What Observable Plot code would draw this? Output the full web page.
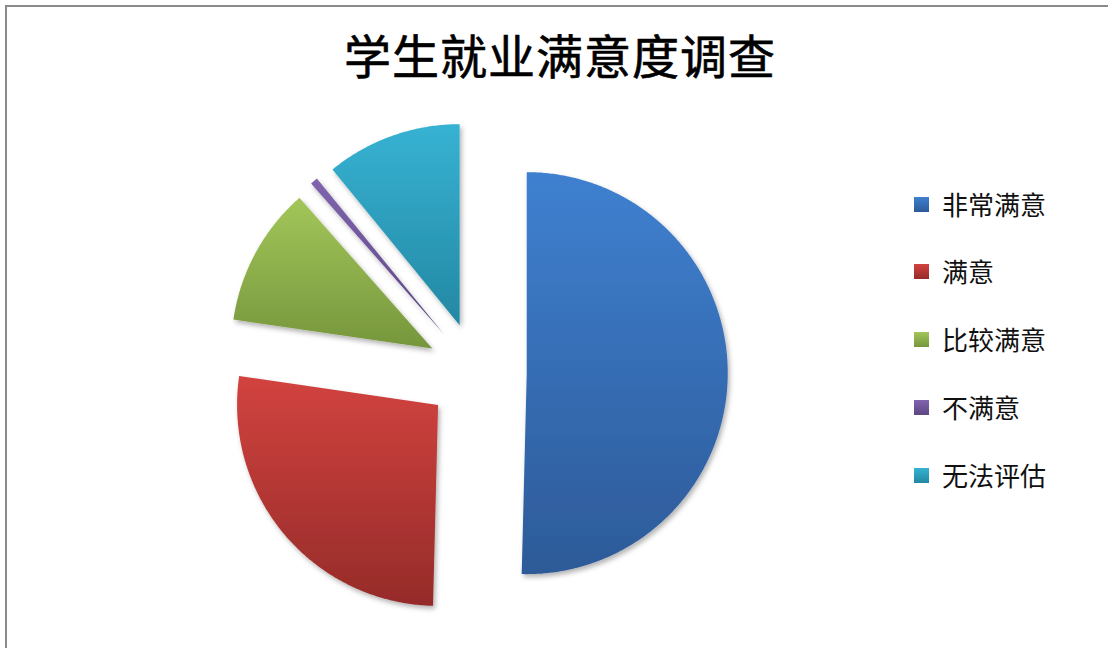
<!DOCTYPE html>
<html>
<head>
<meta charset="utf-8">
<script src="https://cdn.jsdelivr.net/npm/d3@7"></script>
<script src="https://cdn.jsdelivr.net/npm/@observablehq/plot@0.6"></script>
<style>
  html, body { margin: 0; padding: 0; background: #fff; }
  body { width: 1108px; height: 648px; overflow: hidden; position: relative; font-family: "Noto Sans CJK SC", sans-serif; }
  #frame { position: absolute; left: 5px; top: 5px; width: 1300px; height: 900px; border-left: 2px solid #8a8a8a; border-top: 2px solid #8a8a8a; }
  #title { position: absolute; left: 0; top: 22px; width: 1120px; text-align: center; font-size: 47px; line-height: 64px; font-weight: 400; color: #000; letter-spacing: 1px; -webkit-text-stroke: 0.6px #000; }
  #chart { position: absolute; left: 0; top: 100px; }
  #legend { position: absolute; left: 914px; top: 0; }
  .item { position: absolute; left: 0; white-space: nowrap; display: flex; align-items: center; height: 30px; }
  .sw { width: 15px; height: 15px; margin-right: 13px; }
  .lab { font-size: 26px; color: #111; line-height: 30px; }
</style>
</head>
<body>
<div id="frame"></div>
<div id="title">学生就业满意度调查</div>
<div id="chart"></div>
<div id="legend"></div>
<script>
// ---- data ----
const categories = ["非常满意", "满意", "比较满意", "不满意", "无法评估"];
const values = [50.4, 26.9, 11.2, 0.6, 10.9];

// ---- styles ----
const topColors = ["#3f80d0", "#d2433f", "#a3c65a", "#8064ae", "#37b2d3"];
const bottomColors = ["#2d5a98", "#952b29", "#76963c", "#5c4683", "#2388a3"];
const legendRowsY = [204, 271, 339, 407, 475];

// ---- layout ----
const W = 1108, H = 548;
const cx = 476, cy = 272, R = 201;   // pixel center and radius inside the svg
const explode = 0.25;                // explode distance, in radius units

const pie = d3.pie().sort(null).value(d => d.value);
const arcs = pie(categories.map((c, i) => ({cat: c, value: values[i], i})));

const points = [];
for (const a of arcs) {
  const mid = (a.startAngle + a.endAngle) / 2;
  const ox = explode * Math.sin(mid), oy = explode * Math.cos(mid);
  const fill = `url(#grad${a.data.i})`;
  points.push({cat: a.data.cat, fill, x: ox, y: oy});
  const n = Math.max(2, Math.ceil((a.endAngle - a.startAngle) / (Math.PI * 2) * 720));
  for (let k = 0; k <= n; k++) {
    const t = a.startAngle + (a.endAngle - a.startAngle) * k / n;
    points.push({cat: a.data.cat, fill, x: ox + Math.sin(t), y: oy + Math.cos(t)});
  }
  points.push({cat: a.data.cat, fill, x: ox, y: oy});
}

const svg = Plot.plot({
  width: W,
  height: H,
  margin: 0,
  axis: null,
  x: {domain: [-cx / R, (W - cx) / R]},
  y: {domain: [-(H - cy) / R, cy / R]},
  color: {type: "identity"},
  style: {background: "transparent"},
  marks: [
    Plot.line(points, {x: "x", y: "y", z: "cat", fill: "fill", stroke: "none", curve: "linear"})
  ]
});

const s = d3.select(svg);
const defs = s.insert("defs", ":first-child");
categories.forEach((c, i) => {
  const g = defs.append("linearGradient").attr("id", `grad${i}`)
    .attr("x1", 0).attr("y1", 0).attr("x2", 0).attr("y2", 1);
  g.append("stop").attr("offset", "0%").attr("stop-color", topColors[i]);
  g.append("stop").attr("offset", "100%").attr("stop-color", bottomColors[i]);
});
const f = defs.append("filter").attr("id", "shadow")
  .attr("x", "-20%").attr("y", "-20%").attr("width", "140%").attr("height", "140%");
f.append("feDropShadow").attr("dx", 2).attr("dy", 3).attr("stdDeviation", 2.5)
  .attr("flood-color", "#000").attr("flood-opacity", 0.3);
s.selectAll("g[aria-label=line] path").attr("filter", "url(#shadow)");

document.getElementById("chart").appendChild(svg);

// ---- legend ----
const legend = d3.select("#legend");
categories.forEach((c, i) => {
  const item = legend.append("div").attr("class", "item").style("top", (legendRowsY[i] - 15) + "px");
  item.append("div").attr("class", "sw")
    .style("background", `linear-gradient(${topColors[i]}, ${bottomColors[i]})`);
  item.append("div").attr("class", "lab").text(c);
});
</script>
</body>
</html>
